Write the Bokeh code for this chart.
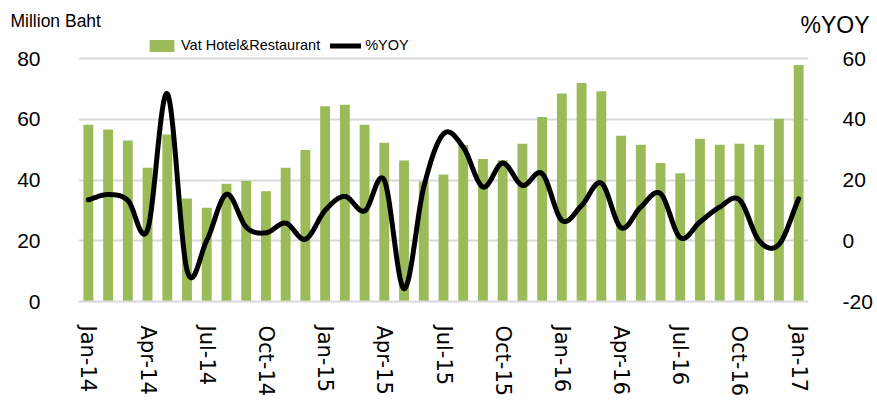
import numpy as np
from bokeh.plotting import figure
from bokeh.models import (Range1d, LinearAxis, FixedTicker, Label, Legend, LegendItem)
from bokeh.embed import file_html
from bokeh.resources import INLINE

months = ["Jan-14", "Feb-14", "Mar-14", "Apr-14", "May-14", "Jun-14", "Jul-14", "Aug-14", "Sep-14",
          "Oct-14", "Nov-14", "Dec-14", "Jan-15", "Feb-15", "Mar-15", "Apr-15", "May-15", "Jun-15",
          "Jul-15", "Aug-15", "Sep-15", "Oct-15", "Nov-15", "Dec-15", "Jan-16", "Feb-16", "Mar-16",
          "Apr-16", "May-16", "Jun-16", "Jul-16", "Aug-16", "Sep-16", "Oct-16", "Nov-16", "Dec-16",
          "Jan-17"]
vat = [58.2, 56.6, 53.0, 44.0, 55.0, 33.9, 30.9, 38.8, 39.7, 36.3, 44.0, 49.9,
       64.3, 64.8, 58.2, 52.3, 46.4, 39.5, 41.8, 51.5, 46.9, 46.5, 51.9, 60.7,
       68.5, 71.9, 69.2, 54.6, 51.6, 45.6, 42.2, 53.6, 51.6, 51.9, 51.6, 60.2, 77.9]
yoy = [13.5, 15.2, 13.3, 3.6, 48.4, -9.7, 0.1, 15.3, 4.5, 2.6, 5.8, 0.5,
       10.0, 14.6, 9.8, 19.9, -15.8, 17.7, 35.2, 30.8, 17.7, 25.6, 18.2, 22.1,
       6.7, 11.6, 19.0, 4.3, 11.1, 15.5, 1.0, 6.2, 11.1, 13.5, 0.0, -1.2, 13.8]
tick_idx = list(range(0, 37, 3))
left_ticks = [0, 20, 40, 60, 80]
right_ticks = [-20, 0, 20, 40, 60]
left_title = "Million Baht"
right_title = "%YOY"
bar_name = "Vat Hotel&Restaurant"
line_name = "%YOY"

GREEN = "#9BBB59"
GRID = "#D9D9D9"
FONT = "Liberation Sans"

W = 877
TOP_H = 38                  # header strip with the two axis titles
MAIN_H = 402 - TOP_H
FRAME_BOTTOM = 301          # page y of value 0
FRAME_80 = 58               # page y of value 80
PX_PER_UNIT = (FRAME_BOTTOM - FRAME_80) / 80.0
Y_TOP = 80 + (FRAME_80 - TOP_H) / PX_PER_UNIT   # frame extended up to hold the legend

x = list(range(len(months)))


# smooth (Excel-like Bezier) rendering of the %YOY line through the data points
def smooth(xs, ys, n=24):
    xs = np.asarray(xs, float); ys = np.asarray(ys, float)
    px = np.concatenate([[2 * xs[0] - xs[1]], xs, [2 * xs[-1] - xs[-2]]])
    py = np.concatenate([[2 * ys[0] - ys[1]], ys, [2 * ys[-1] - ys[-2]]])
    ox, oy = [], []
    t = np.linspace(0, 1, n, endpoint=False)

    def b(a, c1, c2, d):
        return ((1 - t) ** 3) * a + 3 * ((1 - t) ** 2) * t * c1 + 3 * (1 - t) * t * t * c2 + t ** 3 * d

    for i in range(1, len(px) - 2):
        p0, p1, p2, p3 = py[i - 1], py[i], py[i + 1], py[i + 2]
        q0, q1, q2, q3 = px[i - 1], px[i], px[i + 1], px[i + 2]
        c1y = p1 + (p2 - p0) / 6.0; c2y = p2 - (p3 - p1) / 6.0
        c1x = q1 + (q2 - q0) / 6.0; c2x = q2 - (q3 - q1) / 6.0
        ox.extend(b(q1, c1x, c2x, q2)); oy.extend(b(p1, c1y, c2y, p2))
    ox.append(xs[-1]); oy.append(ys[-1])
    return ox, oy


# ---------- header strip: axis titles ----------
top = figure(width=W, height=TOP_H, output_backend="svg", toolbar_location=None,
             x_range=Range1d(0, W), y_range=Range1d(TOP_H, 0),
             x_axis_type=None, y_axis_type=None, min_border=0)
top.outline_line_color = None
top.xgrid.visible = False
top.ygrid.visible = False
top.add_layout(Label(x=10, y=20, text=left_title, text_baseline="alphabetic",
                     text_font=FONT, text_font_size="17.5px", text_color="black"))
top.add_layout(Label(x=800, y=24, text=right_title, text_baseline="alphabetic",
                     text_font=FONT, text_font_size="23px", text_color="black"))

# ---------- main chart ----------
p = figure(width=W, height=MAIN_H, output_backend="svg", toolbar_location=None,
           x_range=Range1d(-0.5, len(months) - 0.5), y_range=Range1d(0, Y_TOP),
           min_border_left=78, min_border_right=W - 808, min_border_top=0,
           min_border_bottom=402 - FRAME_BOTTOM)
p.outline_line_color = None
p.extra_y_ranges = {"yoy": Range1d(-20, Y_TOP - 20)}

bars = p.vbar(x=x, top=vat, width=0.5, fill_color=GREEN, line_color=None)
sx, sy = smooth(x, yoy)
line = p.line(sx, sy, y_range_name="yoy", line_color="black", line_width=5,
              line_cap="round", line_join="round")

p.xaxis.ticker = FixedTicker(ticks=tick_idx)
p.xaxis.major_label_overrides = {i: months[i] for i in tick_idx}
p.xaxis.major_label_orientation = "vertical"
p.xaxis.major_label_text_font = "DejaVu Sans"
p.xaxis.major_label_text_font_size = "21px"
p.xaxis.major_label_text_color = "black"
p.xaxis.major_label_standoff = 18
p.xaxis.axis_line_color = GRID
p.xaxis.axis_line_width = 2
p.xaxis.major_tick_line_color = None
p.xaxis.minor_tick_line_color = None

p.yaxis.ticker = FixedTicker(ticks=left_ticks)
p.yaxis.axis_line_color = None
p.yaxis.major_tick_line_color = None
p.yaxis.minor_tick_line_color = None
p.yaxis.major_label_text_font = FONT
p.yaxis.major_label_text_font_size = "21px"
p.yaxis.major_label_text_color = "black"
p.yaxis.major_label_standoff = 32

raxis = LinearAxis(y_range_name="yoy", ticker=FixedTicker(ticks=right_ticks))
raxis.major_label_overrides = {t: str(t) for t in right_ticks}
raxis.axis_line_color = None
raxis.major_tick_line_color = None
raxis.minor_tick_line_color = None
raxis.major_label_text_font = FONT
raxis.major_label_text_font_size = "21px"
raxis.major_label_text_color = "black"
raxis.major_label_standoff = 28
p.add_layout(raxis, "right")

p.xgrid.grid_line_color = None
p.ygrid.ticker = FixedTicker(ticks=left_ticks)
p.ygrid.grid_line_color = GRID
p.ygrid.grid_line_width = 2

legend = Legend(items=[LegendItem(label=bar_name, renderers=[bars]),
                       LegendItem(label=line_name, renderers=[line])],
                location=(146 - 78, FRAME_BOTTOM - 53), orientation="horizontal",
                border_line_color=None, background_fill_alpha=0,
                padding=0, margin=0, spacing=10, label_standoff=4,
                glyph_width=31, glyph_height=15, label_height=15,
                label_text_font=FONT, label_text_font_size="14.5px", label_text_color="black")
p.add_layout(legend, "center")

open("out.html", "w").write(file_html([top, p], INLINE))
